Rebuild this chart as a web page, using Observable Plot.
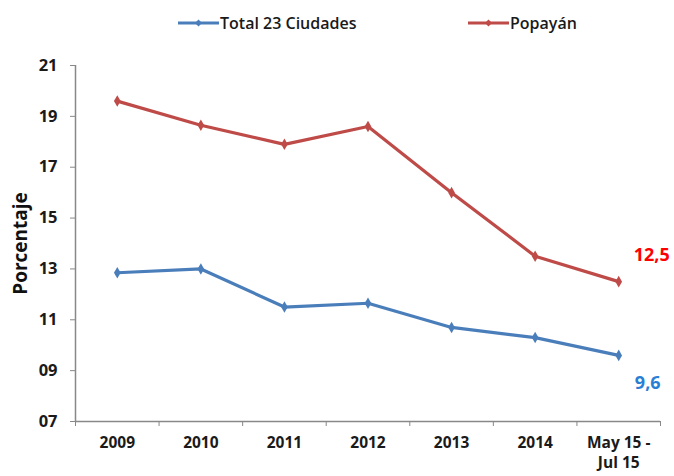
<!DOCTYPE html>
<html><head><meta charset="utf-8">
<script src="https://cdn.jsdelivr.net/npm/d3@7"></script>
<script src="https://cdn.jsdelivr.net/npm/@observablehq/plot@0.6"></script>
<style>
body{margin:0;background:#fff;font-family:"Open Sans",sans-serif;}
#legend{position:relative;width:674px;height:45px;}
.item{position:absolute;top:11px;height:24px;display:flex;align-items:center;font-size:16px;font-weight:600;color:#1a1a1a;white-space:nowrap;}
.item svg{display:block;margin-right:1px;}
</style></head>
<body>
<div id="legend"></div>
<div id="chart"></div>
<script>
const categories = ["2009","2010","2011","2012","2013","2014","May 15 -\nJul 15"];
const total23 = [12.85,13.0,11.5,11.65,10.7,10.3,9.6];
const popayan = [19.6,18.65,17.9,18.6,16.0,13.5,12.5];
const seriesNames = ["Total 23 Ciudades","Popayán"];
const seriesColors = ["#4a7ebb","#be4b48"];
const labelColors = ["#2a7fd4","#ff0000"];
const endLabels = ["9,6","12,5"];
const yTicks = [7,9,11,13,15,17,19,21];

const seriesValues = [total23, popayan];
const rows = [];
seriesValues.forEach((vals, s) => vals.forEach((v, i) => rows.push({series: seriesNames[s], i: i + 0.5, value: v})));
const lastRows = seriesValues.map((vals, s) => ({series: seriesNames[s], i: vals.length - 0.5, value: vals[vals.length - 1], label: endLabels[s], s}));

// legend
const legend = document.getElementById("legend");
const legendLeft = [178, 468];
seriesNames.forEach((name, s) => {
  const div = document.createElement("div");
  div.className = "item";
  div.style.left = legendLeft[s] + "px";
  div.innerHTML = `<svg width="41" height="10"><line x1="0" y1="5" x2="41" y2="5" stroke="${seriesColors[s]}" stroke-width="3.2"/><path d="M20.5,1.5L24,5L20.5,8.5L17,5Z" fill="${seriesColors[s]}"/></svg><span>${name}</span>`;
  legend.appendChild(div);
});

const chart = Plot.plot({
  width: 674,
  height: 431,
  marginTop: 20,
  marginBottom: 55,
  marginLeft: 75,
  marginRight: 14,
  x: {type: "linear", domain: [0, categories.length]},
  y: {domain: [7, 21]},
  color: {domain: seriesNames, range: seriesColors},
  style: {fontFamily: "Open Sans, sans-serif", fontSize: "16.5px", fontWeight: 700, color: "#1a1a1a", background: "#fff"},
  marks: [
    Plot.ruleX([0], {stroke: "#888", strokeWidth: 1.5}),
    Plot.ruleY([7], {stroke: "#888", strokeWidth: 1.5}),
    Plot.axisY({ticks: yTicks, tickFormat: d => String(d).padStart(2, "0"), tickSize: 5, tickPadding: 13, label: null, stroke: "#888", fill: "#1a1a1a"}),
    Plot.axisX({ticks: d3.range(0, categories.length + 1), tickFormat: () => "", tickSize: 5, label: null, stroke: "#888"}),
    Plot.axisX({ticks: categories.map((c, i) => i + 0.5), tickFormat: d => categories[Math.round(d - 0.5)], tickSize: 0, tickPadding: 12, label: null, fill: "#1a1a1a", fontSize: 15.5, lineHeight: 1.32}),
    Plot.text(["Porcentaje"], {frameAnchor: "left", dx: -55, rotate: -90, textAnchor: "middle", fontSize: 19, fontWeight: 700, fill: "#111"}),
    Plot.line(rows, {x: "i", y: "value", z: "series", stroke: "series", strokeWidth: 3.2}),
    Plot.dot(rows, {x: "i", y: "value", fill: "series", symbol: "diamond", r: 3.5}),
    Plot.text(lastRows.filter(d => d.s === 1), {x: "i", y: "value", text: "label", dx: 33, dy: -26, fill: labelColors[1], fontSize: 18, fontWeight: 700}),
    Plot.text(lastRows.filter(d => d.s === 0), {x: "i", y: "value", text: "label", dx: 29, dy: 28, fill: labelColors[0], fontSize: 18, fontWeight: 700})
  ]
});
document.getElementById("chart").appendChild(chart);
</script>
</body></html>
